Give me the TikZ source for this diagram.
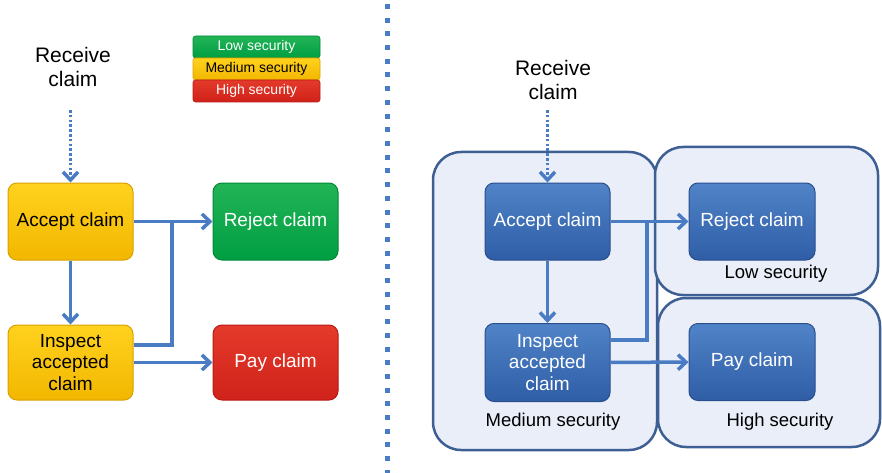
\documentclass[tikz,border=0pt]{standalone}
\usepackage{fontspec}
\setmainfont{Liberation Sans}
\usetikzlibrary{arrows.meta}
\definecolor{arrowblue}{HTML}{4A7CC4}
\definecolor{ylwtop}{HTML}{FFD21E}
\definecolor{ylwbot}{HTML}{F2B700}
\definecolor{ylwedge}{HTML}{D9A000}
\definecolor{grntop}{HTML}{22B457}
\definecolor{grnbot}{HTML}{009E42}
\definecolor{grnedge}{HTML}{008A38}
\definecolor{redtop}{HTML}{E43A2B}
\definecolor{redbot}{HTML}{D0221A}
\definecolor{rededge}{HTML}{B81A14}
\definecolor{blutop}{HTML}{5083C8}
\definecolor{blubot}{HTML}{2F5EA6}
\definecolor{bluedge}{HTML}{2A4F8E}
\definecolor{zonefill}{HTML}{E9EEF8}
\definecolor{zoneedge}{HTML}{3E5F94}
\tikzset{
  procbox/.style={rounded corners=9pt, minimum width=125pt, minimum height=77pt,
    align=center, font=\fontsize{19}{21.5}\selectfont, line width=1pt},
  yellowbox/.style={procbox, top color=ylwtop, bottom color=ylwbot, draw=ylwedge, text=black},
  greenbox/.style={procbox, top color=grntop, bottom color=grnbot, draw=grnedge, text=white},
  redbox/.style={procbox, top color=redtop, bottom color=redbot, draw=rededge, text=white},
  bluebox/.style={procbox, top color=blutop, bottom color=blubot, draw=bluedge, text=white},
  legendbox/.style={rounded corners=2.5pt, minimum width=127pt, minimum height=22pt,
    inner sep=0pt, font=\fontsize{14}{15}\selectfont, line width=0.6pt},
  zone/.style={rounded corners=28pt, fill=zonefill, draw=zoneedge, line width=2.5pt},
  conn/.style={draw=arrowblue, line width=3.5pt},
  arr/.style={conn, -{Straight Barb[length=8pt,width=15pt,line width=3.5pt]}},
  dotarr/.style={arr, dash pattern=on 2.6pt off 2.2pt},
  caption/.style={font=\fontsize{21}{24}\selectfont, align=center},
  zonelabel/.style={font=\fontsize{18.5}{21}\selectfont}
}
\begin{document}
\begin{tikzpicture}[x=1pt, y=-1pt]
\useasboundingbox (0,0) rectangle (882,473);

% separator between the two variants
\draw[arrowblue, line width=5pt, dash pattern=on 5pt off 8.7pt] (387,4) -- (387,473);

% ---------- left: colour-coded process ----------
\node[legendbox, top color=grntop, bottom color=grnbot, draw=grnedge, text=white] (leglow) at (256.5,47) {Low security};
\node[legendbox, top color=ylwtop, bottom color=ylwbot, draw=ylwedge, text=black] (legmed) at (256.5,69) {Medium security};
\node[legendbox, top color=redtop, bottom color=redbot, draw=rededge, text=white] (leghigh) at (256.5,91) {High security};

\node[caption] (lrecv) at (73,67) {Receive\\claim};
\coordinate (lstart) at (70.5,110);

\node[yellowbox] (lacc) at (70.5,221.5) {Accept claim};
\node[greenbox] (lrej) at (275.5,221.5) {Reject claim};
\node[yellowbox, minimum height=75pt] (linsp) at (70.5,362.5) {Inspect\\accepted\\claim};
\node[redbox, minimum height=75pt] (lpay) at (275.5,362.5) {Pay claim};
\coordinate (ljoin) at (172,221.5);

\draw[dotarr] (lstart) -- (lacc.north);
\draw[arr] (lacc) -- (linsp);
\draw[arr] (lacc) -- (lrej);
\draw[conn] ([yshift=17.5pt]linsp.east) -| (ljoin);
\draw[arr] (linsp) -- (lpay);

% ---------- right: process inside security zones ----------
\draw[zone] (433,152) rectangle (657,450);
\draw[zone] (655,147) rectangle (878,295);
\draw[zone] (658,298) rectangle (880,447);

\node[caption] (rrecv) at (553,80) {Receive\\claim};
\coordinate (rstart) at (547.5,110);

\node[bluebox] (racc) at (547.5,221.5) {Accept claim};
\node[bluebox, minimum width=126pt] (rrej) at (752,221.5) {Reject claim};
\node[bluebox, minimum height=78pt] (rinsp) at (547.5,362.5) {Inspect\\accepted\\claim};
\node[bluebox, minimum width=126pt] (rpay) at (752,362) {Pay claim};
\coordinate (rjoin) at (647,221.5);

\node[zonelabel] (lowlbl) at (776,274) {Low security};
\node[zonelabel] (medlbl) at (553,422) {Medium security};
\node[zonelabel] (highlbl) at (780,422) {High security};

\draw[dotarr] (rstart) -- (racc.north);
\draw[arr] (racc) -- (rinsp);
\draw[arr] (racc) -- (rrej);
\draw[conn] ([yshift=22.5pt]rinsp.east) -| (rjoin);
\draw[arr] (rinsp) -- (rpay);
\end{tikzpicture}
\end{document}
